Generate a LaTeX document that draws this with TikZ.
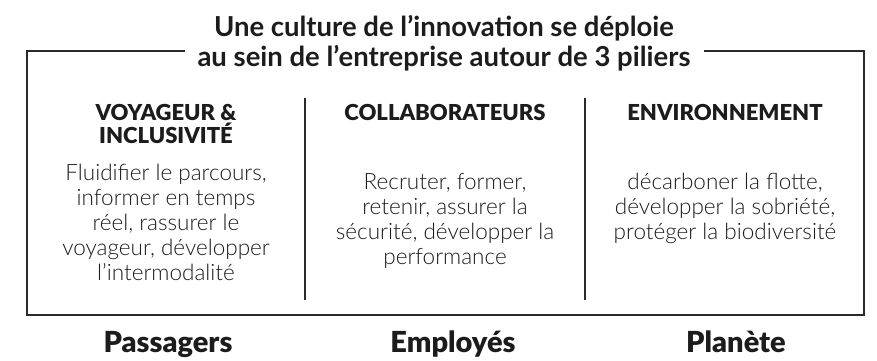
\documentclass[tikz,border=0pt]{standalone}
\usepackage{fontspec}
\setmainfont{Lato}
\newfontfamily\bodyfont{Lato Light}
\newfontfamily\heavyfont{Lato Black}
\definecolor{inkdark}{HTML}{1C1C1C}
\definecolor{framegray}{HTML}{2A2A2A}
\tikzset{
  titletext/.style={font=\bfseries\fontsize{27.5}{32}\selectfont, text=inkdark, anchor=base, inner sep=0pt},
  pillarhead/.style={font=\heavyfont\fontsize{22}{24}\selectfont, text=inkdark, align=center, anchor=base, inner sep=0pt},
  blurb/.style={font=\bodyfont\fontsize{22.5}{25}\selectfont, text=inkdark, align=center, anchor=north, inner sep=0pt},
  target/.style={font=\heavyfont\fontsize{29}{32}\selectfont, text=inkdark, anchor=base, inner sep=0pt},
  frameline/.style={draw=framegray, line width=2.2pt},
  divider/.style={draw=framegray, line width=2pt}
}
\begin{document}
\begin{tikzpicture}[x=1pt, y=-1pt]
  \useasboundingbox (0,0) rectangle (877,360);

  % Title over the frame
  \node[titletext] (title1) at (444,36) {Une culture de l’innovation se déploie};
  \node[titletext] (title2) at (444,66) {au sein de l’entreprise autour de 3 piliers};

  % Frame, open where the title crosses it
  \coordinate (ftl) at (27,51);
  \coordinate (fgl) at (185,51);
  \coordinate (fgr) at (704,51);
  \coordinate (ftr) at (864,51);
  \coordinate (fbl) at (27,315);
  \coordinate (fbr) at (864,315);
  \draw[frameline] (fgl) -- (ftl) -- (fbl) -- (fbr) -- (ftr) -- (fgr);

  % Dividers between the pillars
  \draw[divider] (305,98) -- (305,300);
  \draw[divider] (585,98) -- (585,300);

  % Pillar 1
  \node[pillarhead] (headvoy) at (166,120) {VOYAGEUR \&};
  \node[pillarhead] (headinc) at (166,143) {INCLUSIVITÉ};
  \node[blurb] (textvoy) at (166,164) {Fluidifier le parcours,\\informer en temps\\réel, rassurer le\\voyageur, développer\\l’intermodalité};

  % Pillar 2
  \node[pillarhead] (headcol) at (445,120) {COLLABORATEURS};
  \node[blurb] (textcol) at (445,173) {Recruter, former,\\retenir, assurer la\\sécurité, développer la\\performance};

  % Pillar 3
  \node[pillarhead] (headenv) at (725,120) {ENVIRONNEMENT};
  \node[blurb] (textenv) at (725,173) {décarboner la flotte,\\développer la sobriété,\\protéger la biodiversité};

  % Who each pillar serves
  \node[target] (passagers) at (168,352) {Passagers};
  \node[target] (employes) at (453,352) {Employés};
  \node[target] (planete) at (736,352) {Planète};
\end{tikzpicture}
\end{document}
